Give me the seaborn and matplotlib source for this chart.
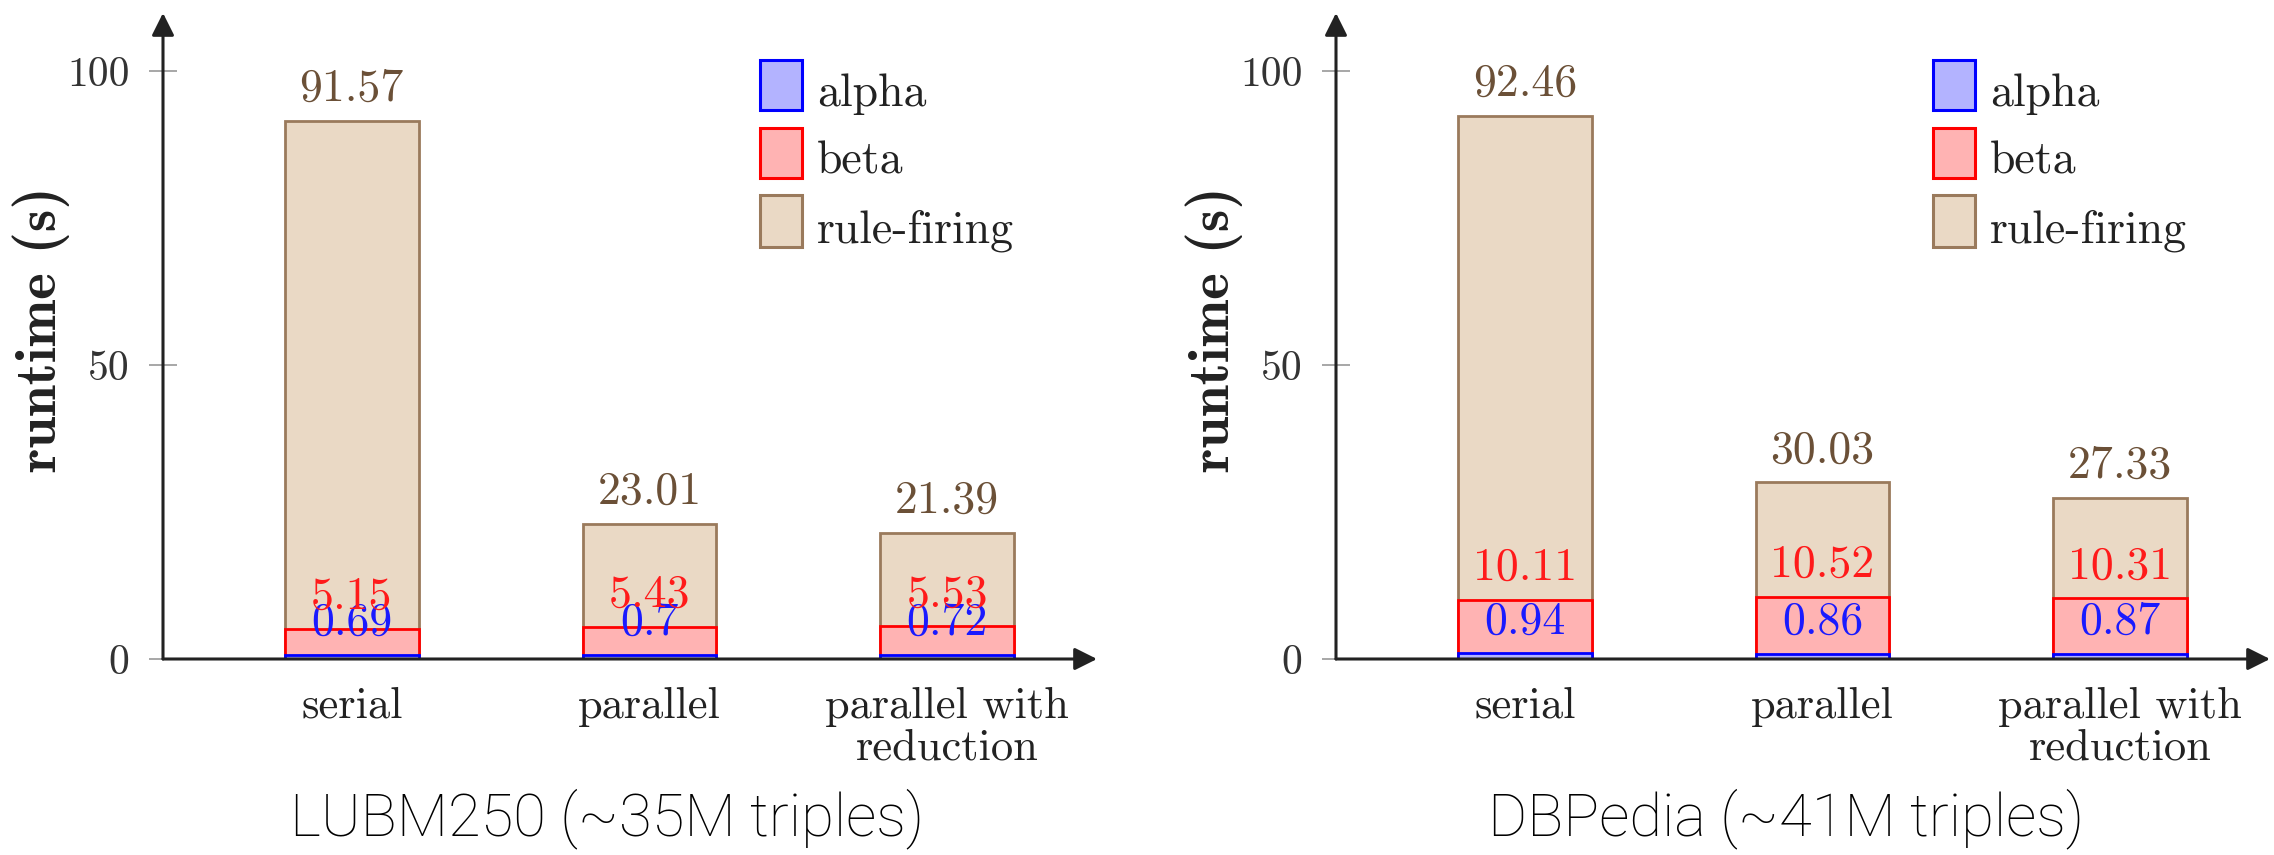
import matplotlib
matplotlib.use("Agg")
import matplotlib.pyplot as plt
import seaborn as sns
import pandas as pd
from matplotlib.patches import Rectangle

# ---------------- data ----------------
categories = ["serial", "parallel", "parallel with\nreduction"]
series = ["alpha", "beta", "rule-firing"]

# cumulative stack tops, as printed on the chart
lubm_alpha = [0.69, 0.7, 0.72]
lubm_beta = [5.15, 5.43, 5.53]
lubm_total = [91.57, 23.01, 21.39]

dbp_alpha = [0.94, 0.86, 0.87]
dbp_beta = [10.11, 10.52, 10.31]
dbp_total = [92.46, 30.03, 27.33]

panel_titles = ["LUBM250 (~35M triples)", "DBPedia (~41M triples)"]
y_ticks = [0, 50, 100]
y_label = "runtime (s)"

# ---------------- style ----------------
sns.set_theme(style="white")
plt.rcParams["font.family"] = ["cmr10", "DejaVu Sans"]
plt.rcParams["axes.unicode_minus"] = False

fills = {"alpha": "#b3b3ff", "beta": "#ffb3b3", "rule-firing": "#ead9c5"}
edges = {"alpha": "#0000ff", "beta": "#ff0000", "rule-firing": "#9a7a5c"}
txtcol = {"alpha": "#1a1aff", "beta": "#ff1a1a", "rule-firing": "#6b5037"}

W, H = 2274, 855
fig = plt.figure(figsize=(W / 100, H / 100), dpi=100)

ax_left_px = [163, 1336]
ax_w_px = 934
ax_bottom_px, ax_top_px = 659, 13

panels = [
    (lubm_alpha, lubm_beta, lubm_total),
    (dbp_alpha, dbp_beta, dbp_total),
]
title_x_px = [607, 1786]

for p, (a_vals, b_vals, t_vals) in enumerate(panels):
    ax = fig.add_axes([ax_left_px[p] / W, 1 - ax_bottom_px / H,
                       ax_w_px / W, (ax_bottom_px - ax_top_px) / H])
    df = pd.DataFrame({"category": categories, "alpha": a_vals,
                       "beta": b_vals, "rule-firing": t_vals})
    for key in ["rule-firing", "beta", "alpha"]:
        sns.barplot(data=df, x="category", y=key, color=fills[key],
                    edgecolor=edges[key], linewidth=2.0, width=0.45,
                    saturation=1, ax=ax)
    # value labels above each cumulative top
    for key in ["alpha", "beta", "rule-firing"]:
        for i, v in enumerate(df[key]):
            ax.annotate(f"{v:g}", xy=(i, v), xytext=(0, 23),
                        textcoords="offset points", ha="center", va="center",
                        color=txtcol[key], fontsize=33)

    ax.set_xlim(-0.634, 2.503)
    ax.set_ylim(0, 109.9)
    for s in ax.spines.values():
        s.set_visible(False)
    ax.set_facecolor("none")

    # arrow axes
    arrow_kw = dict(arrowstyle="-|>", color="#222222", lw=2.2,
                    mutation_scale=34, shrinkA=0, shrinkB=0)
    ax.annotate("", xy=(1, 0), xytext=(0, 0), xycoords="axes fraction",
                textcoords="axes fraction", arrowprops=arrow_kw,
                annotation_clip=False)
    ax.annotate("", xy=(0, 1), xytext=(0, 0), xycoords="axes fraction",
                textcoords="axes fraction", arrowprops=arrow_kw,
                annotation_clip=False)

    ax.set_yticks(y_ticks, labels=[str(t) for t in y_ticks])
    ax.tick_params(axis="y", direction="inout", length=20, width=1.3,
                   color="#a0a0a0", labelsize=30, labelcolor="#333333",
                   pad=14, left=True)
    ax.tick_params(axis="x", length=0, labelsize=32, labelcolor="#222222",
                   pad=20)
    for lab in ax.get_xticklabels():
        lab.set_linespacing(1.05)
    ax.set_xlabel("")
    ax.set_ylabel(y_label, fontsize=41, fontfamily="cmb10", color="#222222")
    ax.yaxis.set_label_coords((70 - 163) / ax_w_px, 0.51)

    # legend drawn manually (square swatches + labels)
    sq_rows = [(60, 110), (128, 178), (195, 247)]
    for key, (top_px, bot_px) in zip(series, sq_rows):
        y0 = (ax_bottom_px - bot_px) / (ax_bottom_px - ax_top_px)
        y1 = (ax_bottom_px - top_px) / (ax_bottom_px - ax_top_px)
        x0 = (760 - 163) / ax_w_px
        x1 = (802 - 163) / ax_w_px
        ax.add_patch(Rectangle((x0, y0), x1 - x0, y1 - y0,
                               transform=ax.transAxes, facecolor=fills[key],
                               edgecolor=edges[key], lw=2.2, clip_on=False))
        ax.text((817 - 163) / ax_w_px, y0 + 4 / 646, key,
                transform=ax.transAxes, ha="left", va="baseline",
                fontsize=33, color="#222222")

    fig.text(title_x_px[p] / W, 1 - 819 / H, panel_titles[p], ha="center",
             va="center", fontsize=43, color="#000000",
             fontfamily=["Roboto", "DejaVu Sans"], fontweight="light")

fig.savefig("out.png", dpi=100, facecolor="white")
